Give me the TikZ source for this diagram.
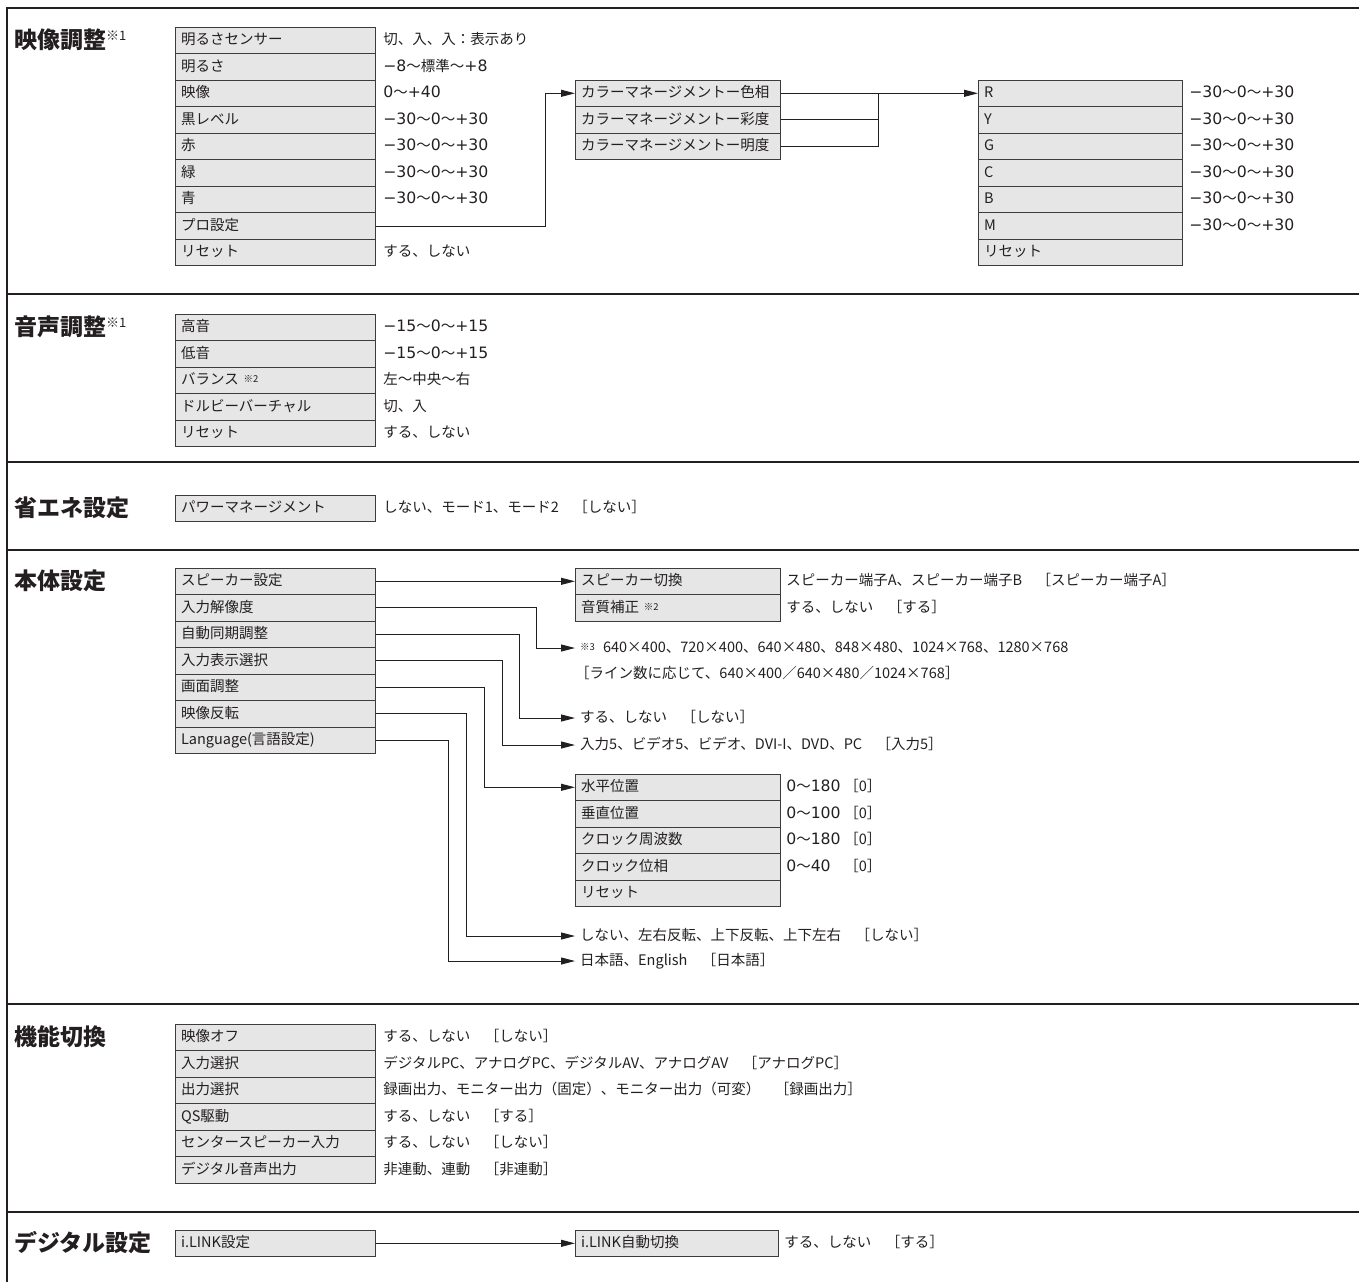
\documentclass[tikz,border=0pt]{standalone}
\usepackage{fontspec}
\setmainfont{Noto Sans CJK JP}
\newfontfamily\rnfont{DejaVu Sans}[Scale=1.08]
\usepackage{xcolor}
\usepackage{tikz}
\usetikzlibrary{positioning, arrows.meta, calc}
\definecolor{ink}{HTML}{231F20}
\definecolor{edge}{HTML}{3C3C3C}
\definecolor{cell}{HTML}{E6E6E6}
\newcommand\fsz[1]{\fontsize{#1}{#1}\selectfont}
\newcommand\kome[1]{\raisebox{2pt}{\fsz{9.5}#1}}
\newcommand\hkome[1]{\raisebox{8pt}{\fsz{13}\mdseries#1}}
\newcommand\rn[1]{{\rnfont #1}}
\newcommand\rg[3]{\rn{#1}〜\rn{#2}〜\rn{#3}}
\tikzset{
  cellbox/.style = {rectangle, draw=edge, fill=cell, line width=1.1pt,
                    anchor=north west, minimum height=26.5, text width=189,
                    inner xsep=5.5, inner ysep=0, text height=11, text depth=2.5,
                    align=left, font=\fsz{14.5}, text=ink},
  widebox/.style = {cellbox, text width=194},
  val/.style     = {inner sep=0, text height=11, text depth=2.5,
                    font=\fsz{14.5}, text=ink},
  tgt/.style     = {val, anchor=west, inner xsep=5},
  head/.style    = {anchor=west, inner sep=0, font=\fsz{23}\bfseries, text=ink},
  ln/.style      = {line width=1pt, draw=ink},
  ar/.style      = {ln, -{Triangle[length=14pt,width=7pt]}},
  rule/.style    = {line width=2.6pt, draw=ink},
}

\begin{document}
\begin{tikzpicture}[x=1pt, y=-1pt]
  \useasboundingbox (0,0) rectangle (1359,1282);

  % ----- frame -----
  \draw[rule] (7,1282) -- (7,8) -- (1359,8);
  \foreach \y in {294, 462, 550, 1004, 1212}
     {\draw[rule] (7,\y) -- (1359,\y);}

  % ----- 映像調整 -----
  \node[head] (h1) at (14,40) {映像調整\hkome{※1}};
  \foreach \t/\v [count=\i] in {明るさセンサー/切、入、入：表示あり,
      明るさ/{\rn{−8}〜標準〜\rn{+8}}, 映像/{\rn{0}〜\rn{+40}},
      黒レベル/\rg{−30}{0}{+30}, 赤/\rg{−30}{0}{+30}, 緑/\rg{−30}{0}{+30},
      青/\rg{−30}{0}{+30}, プロ設定/, リセット/する、しない}
     {\node[cellbox] (p\i) at (175, {26.75+(\i-1)*26.5}) {\t};
      \node[val, right=7pt of p\i] (pv\i) {\v};}

  \foreach \t [count=\i] in {カラーマネージメントー色相, カラーマネージメントー彩度,
      カラーマネージメントー明度}
     {\node[widebox] (cm\i) at (575, {79.5+(\i-1)*26.5}) {\t};}

  \foreach \t/\v [count=\i] in {R/\rg{−30}{0}{+30}, Y/\rg{−30}{0}{+30},
      G/\rg{−30}{0}{+30}, C/\rg{−30}{0}{+30}, B/\rg{−30}{0}{+30},
      M/\rg{−30}{0}{+30}, リセット/}
     {\node[cellbox, text width=193] (rg\i) at (978, {79.5+(\i-1)*26.5}) {\t};
      \node[val, right=6pt of rg\i] (rv\i) {\v};}

  \coordinate (kp) at (545,0);
  \coordinate (kc) at (878,0);
  \draw[ar] (p8.east) -- (p8.east -| kp) |- (cm1.west);
  \draw[ar] (cm1.east) -- (rg1.west);
  \draw[ln] (cm2.east) -| (cm1.east -| kc);
  \draw[ln] (cm3.east) -| (cm1.east -| kc);

  % ----- 音声調整 -----
  \node[head] (h2) at (14,327) {音声調整\hkome{※1}};
  \foreach \t/\v [count=\i] in {高音/\rg{−15}{0}{+15}, 低音/\rg{−15}{0}{+15},
      バランス \kome{※2}/左〜中央〜右, ドルビーバーチャル/切、入, リセット/する、しない}
     {\node[cellbox] (a\i) at (175, {313.5+(\i-1)*26.5}) {\t};
      \node[val, right=7pt of a\i] (av\i) {\v};}

  % ----- 省エネ設定 -----
  \node[head] (h3) at (14,508) {省エネ設定};
  \node[cellbox] (e1) at (175,494.5) {パワーマネージメント};
  \node[val, right=7pt of e1] (ev1) {しない、モード1、モード2　［しない］};

  % ----- 本体設定 -----
  \node[head] (h4) at (14,581) {本体設定};
  \foreach \t [count=\i] in {スピーカー設定, 入力解像度, 自動同期調整, 入力表示選択,
      画面調整, 映像反転, {Language(言語設定)}}
     {\node[cellbox] (m\i) at (175, {567.5+(\i-1)*26.5}) {\t};}

  \foreach \t/\v [count=\i] in {スピーカー切換/スピーカー端子A、スピーカー端子B　［スピーカー端子A］,
      音質補正 \kome{※2}/する、しない　［する］}
     {\node[widebox] (sp\i) at (575, {567.5+(\i-1)*26.5}) {\t};
      \node[val, right=5pt of sp\i] (spv\i) {\v};}

  \node[tgt] (res) at (575,648)
     {\kome{※3}\,\, 640×400、720×400、640×480、848×480、1024×768、1280×768};
  \node[val, anchor=west] (res2) at (575,674)
     {［ライン数に応じて、640×400／640×480／1024×768］};
  \node[tgt] (sync) at (575,718) {する、しない　［しない］};
  \node[tgt] (insel) at (575,745) {入力5、ビデオ5、ビデオ、DVI-I、DVD、PC　［入力5］};

  \foreach \t [count=\i] in {水平位置, 垂直位置, クロック周波数, クロック位相, リセット}
     {\node[widebox] (sc\i) at (575, {773.5+(\i-1)*26.5}) {\t};}
  \foreach \v [count=\i] in {180, 100, 180, 40}
     {\node[val, right=5pt of sc\i] (scv\i) {\makebox[58pt][l]{\rn{0}〜\rn{\v}}［0］};}

  \node[tgt] (flip) at (575,936) {しない、左右反転、上下反転、上下左右　［しない］};
  \node[tgt] (lang) at (575,961) {日本語、English　［日本語］};

  \coordinate (k2) at (536,0);
  \coordinate (k3) at (519,0);
  \coordinate (k4) at (502,0);
  \coordinate (k5) at (484,0);
  \coordinate (k6) at (466,0);
  \coordinate (k7) at (448,0);
  \draw[ar] (m1.east) -- (sp1.west);
  \draw[ar] (m2.east) -- (m2.east -| k2) |- (res.west);
  \draw[ar] (m3.east) -- (m3.east -| k3) |- (sync.west);
  \draw[ar] (m4.east) -- (m4.east -| k4) |- (insel.west);
  \draw[ar] (m5.east) -- (m5.east -| k5) |- (sc1.west);
  \draw[ar] (m6.east) -- (m6.east -| k6) |- (flip.west);
  \draw[ar] (m7.east) -- (m7.east -| k7) |- (lang.west);

  % ----- 機能切換 -----
  \node[head] (h5) at (14,1037) {機能切換};
  \foreach \t/\v [count=\i] in {映像オフ/する、しない　［しない］,
      入力選択/デジタルPC、アナログPC、デジタルAV、アナログAV　［アナログPC］,
      出力選択/録画出力、モニター出力（固定）、モニター出力（可変）　［録画出力］,
      QS駆動/する、しない　［する］, センタースピーカー入力/する、しない　［しない］,
      デジタル音声出力/非連動、連動　［非連動］}
     {\node[cellbox] (f\i) at (175, {1023.5+(\i-1)*26.5}) {\t};
      \node[val, right=7pt of f\i] (fv\i) {\v};}

  % ----- デジタル設定 -----
  \node[head] (h6) at (14,1243) {デジタル設定};
  \node[cellbox] (d1) at (175,1229.5) {i.LINK設定};
  \node[widebox, text width=192] (d2) at (575,1229.5) {i.LINK自動切換};
  \node[val, right=5pt of d2] (dv2) {する、しない　［する］};
  \draw[ar] (d1.east) -- (d2.west);

\end{tikzpicture}
\end{document}
